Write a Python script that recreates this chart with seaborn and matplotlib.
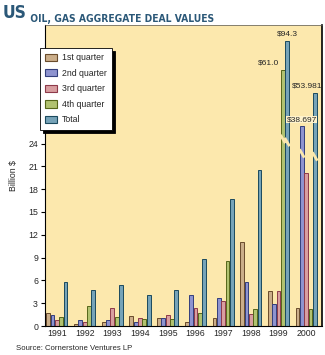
import matplotlib
matplotlib.use("Agg")
import matplotlib.pyplot as plt
from matplotlib.patches import Patch
import seaborn as sns
import pandas as pd
import numpy as np

# ---------------- data ----------------
years = ["1991", "1992", "1993", "1994", "1995", "1996", "1997", "1998", "1999", "2000"]
series = ["1st quarter", "2nd quarter", "3rd quarter", "4th quarter", "Total"]
q1 = [1.75, 0.25, 0.5, 1.3, 1.05, 0.5, 1.05, 11.0, 4.6, 2.4]
q2 = [1.45, 0.8, 0.8, 0.5, 1.0, 4.1, 3.7, 5.8, 2.9, 38.697]
q3 = [0.8, 0.5, 2.4, 1.05, 1.45, 2.35, 3.3, 1.6, 4.6, 20.1]
q4 = [1.2, 2.6, 1.2, 0.95, 0.95, 1.7, 8.5, 2.2, 61.0, 2.25]
total = [5.8, 4.7, 5.4, 4.1, 4.7, 8.8, 16.7, 20.5, 94.3, 53.981]
yticks = [0, 3, 6, 9, 12, 15, 18, 21, 24]

# bars that exceed the axis are drawn broken: (year, series) -> drawn height, break height, label
broken = {
    ("1999", "4th quarter"): (33.7, 24.6, "$61.0"),
    ("1999", "Total"): (37.5, 24.2, "$94.3"),
    ("2000", "2nd quarter"): (26.3, 22.7, "$38.697"),
    ("2000", "Total"): (30.7, 22.3, "$53.981"),
}

face = ["#cbae8a", "#8e93cf", "#d89ea0", "#b1c270", "#76a3b8"]
edge = ["#6a4c2c", "#333f7c", "#8e3a4a", "#56661a", "#1b4a5e"]
bg = "#fce8ad"

vals = [q1, q2, q3, q4, total]
rows = []
for s, v in zip(series, vals):
    for y, x in zip(years, v):
        h = broken[(y, s)][0] if (y, s) in broken else x
        rows.append({"year": y, "series": s, "value": x, "drawn": h})
df = pd.DataFrame(rows)

# ---------------- figure ----------------
sns.set_theme(style="white")
plt.rcParams["font.family"] = ["Liberation Sans", "DejaVu Sans"]
plt.rcParams["hatch.color"] = "#f3d99a"
plt.rcParams["hatch.linewidth"] = 0.6

fig = plt.figure(figsize=(3.25, 3.55), dpi=100)
ax = fig.add_axes([45 / 325, 1 - 326 / 355, 277 / 325, 301 / 355])
ax.set_facecolor(bg)
ax.patch.set_hatch("..")

sns.barplot(data=df, x="year", y="drawn", hue="series", order=years,
            hue_order=series, palette=face, width=0.78, gap=0.12,
            legend=False, ax=ax, saturation=1)

for i, cont in enumerate(ax.containers):
    for p in cont:
        p.set_edgecolor(edge[i])
        p.set_linewidth(0.7)

ax.set_xlim(-0.43, 9.57)
ax.set_ylim(0, 39.6)
ax.set_yticks(yticks)
ax.set_yticklabels([str(t) for t in yticks])
ax.tick_params(axis="y", direction="out", length=3, width=0.8, pad=2,
               labelsize=6.3, color="black", left=True)
ax.tick_params(axis="x", length=0, pad=2.5, labelsize=6.3)
ax.set_xlabel("")
ax.set_ylabel("Billion $", fontsize=6.3)
ax.yaxis.set_label_coords(-0.098, 0.5)
for sp in ax.spines.values():
    sp.set_color("black")
    sp.set_linewidth(0.8)
ax.spines["top"].set_linewidth(0.5)
ax.spines["top"].set_color("#555555")
ax.spines["right"].set_linewidth(1.2)

# broken bars: break marks and value labels
for (y, s), (h, brk, lab) in broken.items():
    p = ax.containers[series.index(s)][years.index(y)]
    x0, w = p.get_x(), p.get_width()
    xc = x0 + w / 2
    ax.plot([x0 - 0.02, x0 + w + 0.02], [brk + 0.55, brk - 0.55],
            color=bg, lw=2.0, solid_capstyle="butt", zorder=5)
    if lab == "$61.0":
        ax.text(x0 - 0.05, h + 0.5, lab, ha="right", va="bottom", fontsize=6.0, zorder=6)
    elif lab == "$53.981":
        ax.text(x0 + w + 0.2, h + 0.4, lab, ha="right", va="bottom", fontsize=6.0, zorder=6)
    elif lab == "$38.697":
        ax.text(xc, h + 0.4, lab, ha="center", va="bottom", fontsize=6.0, zorder=6,
                bbox=dict(boxstyle="square,pad=0.05", fc="#fff3cc", ec="none"))
    else:
        ax.text(xc, h + 0.5, lab, ha="center", va="bottom", fontsize=6.0, zorder=6)

# legend
handles = [Patch(facecolor=f, edgecolor=e, linewidth=0.8) for f, e in zip(face, edge)]
leg = fig.legend(handles, series, loc="upper left",
                 bbox_to_anchor=(40 / 325, 1 - 48 / 355), fontsize=6.3,
                 frameon=True, fancybox=False, shadow={"color": "black", "alpha": 1},
                 handlelength=1.3, handleheight=0.9, handletextpad=0.6,
                 labelspacing=0.75, borderpad=0.6, borderaxespad=0)
leg.get_frame().set_edgecolor("black")
leg.get_frame().set_linewidth(0.6)
leg.get_frame().set_facecolor("white")

# title
tcol = "#2b5878"
tfam = ["DejaVu Sans", "Liberation Sans"]
us = fig.text(3 / 325, 1 - 18 / 355, "US", fontsize=12.5, fontweight="bold", color=tcol,
              family=tfam, fontstretch="condensed", va="baseline")
fig.canvas.draw()
ax.annotate(" OIL, GAS AGGREGATE DEAL VALUES", xy=(1, 0), xycoords=us,
            fontsize=7.4, fontweight="bold", color=tcol, va="baseline",
            family=tfam, fontstretch="condensed", annotation_clip=False)

fig.text(16 / 325, 1 - 349 / 355, "Source: Cornerstone Ventures LP", fontsize=5.6,
         va="center", ha="left")

fig.savefig("out.png", dpi=100, facecolor="white")
